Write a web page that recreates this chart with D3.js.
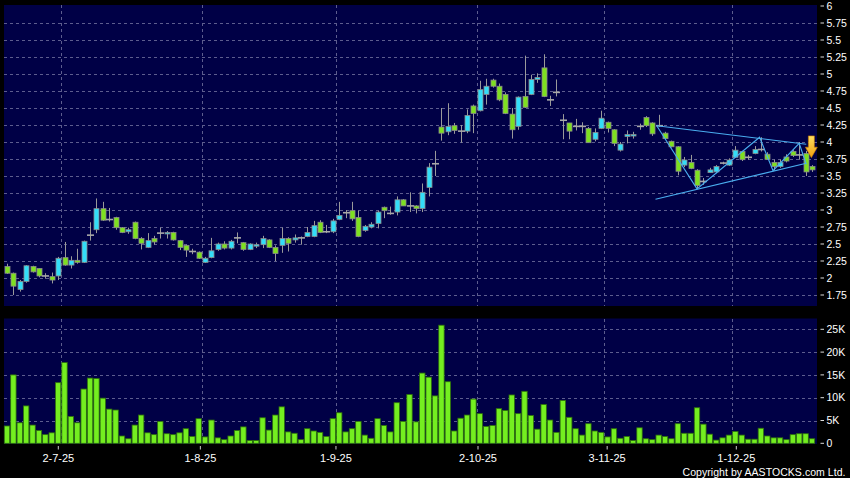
<!DOCTYPE html>
<html><head><meta charset="utf-8">
<script src="https://cdn.jsdelivr.net/npm/d3@7"></script>
<style>html,body{margin:0;padding:0;background:#000;} svg{display:block;}</style>
</head><body>
<svg id="chart" width="850" height="478"></svg>
<script>
// ---- DATA ----
const opens = [2.17,2.07,1.83,1.95,2.17,2.14,2.03,2.02,2.03,2.30,
2.19,2.26,2.23,2.63,2.71,3.02,2.86,2.89,2.74,2.68,
2.82,2.58,2.45,2.58,2.66,2.65,2.67,2.55,2.48,2.39,
2.38,2.23,2.30,2.42,2.50,2.44,2.59,2.52,2.42,2.48,
2.49,2.56,2.45,2.48,2.58,2.56,2.59,2.61,2.61,2.82,
2.68,2.68,2.86,2.96,2.99,2.89,2.70,2.75,2.80,3.04,
2.95,2.97,3.15,3.06,3.06,3.02,3.33,3.68,4.22,4.15,
4.24,4.16,4.16,4.53,4.46,4.70,4.91,4.82,4.70,4.41,
4.23,4.67,4.70,4.92,5.09,4.62,4.73,4.32,4.28,4.23,
4.23,4.20,4.04,4.20,4.29,4.18,3.88,4.08,4.09,4.23,
4.36,4.28,4.24,4.13,4.01,3.93,3.66,3.70,3.585,3.42,
3.55,3.56,3.69,3.66,3.775,3.86,3.775,3.83,3.89,3.82,
3.70,3.64,3.78,3.86,3.81,3.83,3.64];
const closes = [2.07,1.88,1.95,2.18,2.09,2.03,2.03,1.97,2.29,2.19,
2.26,2.23,2.54,2.63,3.02,2.85,2.86,2.74,2.67,2.71,
2.58,2.51,2.55,2.53,2.66,2.67,2.56,2.45,2.41,2.39,
2.29,2.29,2.40,2.50,2.44,2.54,2.59,2.42,2.50,2.49,
2.58,2.45,2.36,2.58,2.51,2.59,2.59,2.67,2.77,2.67,
2.68,2.84,2.92,2.96,2.87,2.61,2.76,2.79,2.97,2.99,
2.95,3.15,3.06,3.06,3.02,3.26,3.63,3.68,4.13,4.23,
4.17,4.16,4.39,4.42,4.77,4.82,4.82,4.62,4.42,4.18,
4.66,4.51,4.92,4.95,4.67,4.62,4.73,4.32,4.16,4.23,
4.23,3.99,4.14,4.35,4.20,3.98,3.97,4.11,4.11,4.23,
4.24,4.12,4.24,4.05,3.93,3.57,3.735,3.61,3.36,3.42,
3.59,3.64,3.69,3.735,3.88,3.74,3.775,3.89,3.89,3.745,
3.64,3.70,3.72,3.80,3.81,3.56,3.59];
const highs = [2.21,2.08,1.97,2.19,2.18,2.14,2.07,2.08,2.31,2.53,
2.32,2.43,2.55,2.82,3.17,3.12,3.03,2.90,2.75,2.74,
2.83,2.60,2.66,2.62,2.74,2.69,2.68,2.56,2.49,2.43,
2.39,2.31,2.59,2.52,2.54,2.56,2.67,2.53,2.51,2.52,
2.62,2.57,2.48,2.74,2.60,2.64,2.61,2.75,2.84,2.85,
2.78,2.87,3.12,3.00,3.12,2.99,2.78,2.82,2.99,3.05,
3.05,3.20,3.16,3.26,3.07,3.39,3.69,3.87,4.50,4.57,
4.28,4.25,4.48,4.55,4.90,4.93,4.93,4.86,4.73,4.50,
4.67,5.27,4.99,5.01,5.29,4.68,4.92,4.41,4.28,4.34,
4.29,4.22,4.20,4.46,4.30,4.19,4.00,4.17,4.15,4.27,
4.38,4.29,4.40,4.15,4.02,3.94,3.78,3.81,3.60,3.47,
3.62,3.66,3.71,3.76,3.94,3.87,3.81,3.94,4.07,3.85,
3.74,3.74,3.82,3.88,4.00,3.87,3.66];
const lows = [2.06,1.75,1.80,1.93,2.08,2.01,1.99,1.92,1.97,2.18,
2.14,2.21,2.22,2.55,2.66,2.84,2.83,2.71,2.66,2.65,
2.57,2.42,2.44,2.49,2.58,2.58,2.55,2.41,2.31,2.35,
2.28,2.22,2.29,2.40,2.42,2.42,2.51,2.40,2.41,2.44,
2.44,2.44,2.25,2.37,2.39,2.52,2.49,2.60,2.60,2.66,
2.66,2.66,2.85,2.88,2.84,2.60,2.68,2.73,2.73,2.88,
2.93,2.92,3.06,2.97,2.95,2.97,3.20,3.50,4.02,4.10,
4.12,3.99,4.13,4.13,4.45,4.55,4.80,4.60,4.41,4.05,
4.18,4.50,4.69,4.87,4.66,4.53,4.67,4.04,4.04,4.17,
4.13,3.99,4.01,4.19,4.14,3.94,3.86,3.98,4.05,4.18,
4.22,4.09,4.22,4.04,3.92,3.51,3.63,3.60,3.31,3.37,
3.55,3.54,3.67,3.65,3.77,3.72,3.74,3.82,3.86,3.74,
3.58,3.62,3.70,3.78,3.74,3.50,3.56];
const volumesK = [3.8,15.0,4.5,8.2,4.0,2.8,1.9,2.3,13.3,17.7,
5.9,4.5,11.9,14.3,14.2,9.9,7.5,7.3,1.6,1.0,
4.0,6.2,2.3,1.9,4.8,2.1,1.9,2.3,3.2,1.5,
5.4,1.4,5.1,1.2,0.8,1.6,2.8,3.6,0.6,0.6,
5.6,2.9,6.2,8.0,2.5,2.2,0.8,3.2,2.7,2.4,
1.5,5.4,6.7,2.5,3.2,4.8,1.8,1.1,5.4,3.9,
2.5,8.9,4.8,10.7,4.7,15.4,14.5,10.4,25.9,13.5,
2.7,5.5,6.2,9.7,6.5,3.7,3.9,7.6,7.2,10.6,
6.5,11.4,6.1,3.1,8.5,5.1,2.4,9.4,5.7,3.2,
1.8,4.3,2.7,2.4,1.4,3.2,1.1,1.5,0.6,3.4,
1.0,0.8,1.8,1.5,1.0,4.3,2.2,2.2,7.8,4.2,
2.0,0.7,1.2,1.8,2.6,1.8,0.9,0.9,3.3,1.6,
1.2,1.2,0.8,1.9,2.1,2.1,1.0];
const dateTickIndex = [9, 31, 52, 74, 94, 114];
const dateTickLabels = ["2-7-25","1-8-25","1-9-25","2-10-25","3-11-25","1-12-25"];
const priceTicks = [1.75,2,2.25,2.5,2.75,3,3.25,3.5,3.75,4,4.25,4.5,4.75,5,5.25,5.5,5.75,6];
const priceTickLabels = ["1.75","2","2.25","2.5","2.75","3","3.25","3.5","3.75","4","4.25","4.5","4.75","5","5.25","5.5","5.75","6"];
const volTicks = [0,5,10,15,20,25];
const volTickLabels = ["0","5K","10K","15K","20K","25K"];
// pattern drawing: [bar index, price]
const zigzag = [[101.7,4.24],[108.0,3.31],[117.8,4.07],[119.9,3.578],[124.0,3.98],[125.1,3.67]];
const upperTrend = [[101.7,4.24],[125.1,3.966]];
const lowerTrend = [[101.5,3.157],[125.1,3.687]];
const signalArrow = {index: 125.9, top: 4.09, tip: 3.77};

// ---- LAYOUT ----
const N = closes.length;
const svg = d3.select("#chart");
const P = {left: 4, right: 817, top: 5, bottom: 306};
const V = {top: 318.5, bottom: 444};
const x = d3.scaleLinear().domain([0, N - 1]).range([7, 812]);
const xLab = d3.scaleLinear().domain([8.5, 113.5]).range([58.3, 736.3]);
const yP = d3.scaleLinear().domain([1.75, 6]).range([295, 6]);
const yV = d3.scaleLinear().domain([0, 25]).range([443.3, 329.3]);
const FONT = "'Liberation Sans', Arial, Helvetica, sans-serif";
const gridColor = "#5d5d8e";

svg.append("rect").attr("width", 850).attr("height", 478).attr("fill", "#000");
svg.append("rect").attr("x", P.left).attr("y", P.top).attr("width", P.right - P.left).attr("height", P.bottom - P.top).attr("fill", "#000046");
svg.append("rect").attr("x", P.left).attr("y", V.top).attr("width", P.right - P.left).attr("height", V.bottom - V.top).attr("fill", "#000046");

// grids
const grid = svg.append("g").attr("stroke", gridColor).attr("stroke-width", 1).attr("stroke-dasharray", "3,3").attr("shape-rendering", "crispEdges");
grid.selectAll(".hp").data(priceTicks.filter(t => t < 6)).join("line")
  .attr("x1", P.left).attr("x2", P.right).attr("y1", d => Math.round(yP(d)) + 0.5).attr("y2", d => Math.round(yP(d)) + 0.5);
grid.selectAll(".hv").data(volTicks.filter(t => t > 0)).join("line")
  .attr("x1", P.left).attr("x2", P.right).attr("y1", d => Math.round(yV(d)) + 0.5).attr("y2", d => Math.round(yV(d)) + 0.5);
dateTickIndex.forEach(i => {
  const gx = Math.round(x(i - 0.5)) + 0.5;
  grid.append("line").attr("x1", gx).attr("x2", gx).attr("y1", P.top).attr("y2", P.bottom);
  grid.append("line").attr("x1", gx).attr("x2", gx).attr("y1", V.top).attr("y2", V.bottom);
});

// candles
const cg = svg.append("g");
const idx = d3.range(N);
cg.selectAll(".wick").data(idx).join("line")
  .attr("x1", i => Math.round(x(i)) + 0.5).attr("x2", i => Math.round(x(i)) + 0.5)
  .attr("y1", i => yP(highs[i])).attr("y2", i => yP(lows[i]))
  .attr("stroke", "#9a9a9a").attr("stroke-width", 1);
cg.selectAll(".body").data(idx.filter(i => opens[i] !== closes[i])).join("rect")
  .attr("x", i => Math.round(x(i)) - 2)
  .attr("y", i => yP(Math.max(opens[i], closes[i])))
  .attr("width", 5)
  .attr("height", i => Math.max(1.5, Math.abs(yP(opens[i]) - yP(closes[i]))))
  .attr("fill", i => closes[i] > opens[i] ? "#33ddf8" : "#7ee020")
  .attr("stroke", "#8a8a8a").attr("stroke-width", 0.8);
cg.selectAll(".doji").data(idx.filter(i => opens[i] === closes[i])).join("line")
  .attr("x1", i => Math.round(x(i)) - 3).attr("x2", i => Math.round(x(i)) + 4)
  .attr("y1", i => yP(closes[i])).attr("y2", i => yP(closes[i]))
  .attr("stroke", "#a8a8a8").attr("stroke-width", 1.6);

// pattern lines
const line = d3.line().x(d => x(d[0])).y(d => yP(d[1]));
[zigzag, upperTrend, lowerTrend].forEach(pts => {
  svg.append("path").attr("d", line(pts)).attr("fill", "none").attr("stroke", "#4aaef0").attr("stroke-width", 1.1);
});

// signal arrow
const defs = svg.append("defs");
const grad = defs.append("linearGradient").attr("id", "ag").attr("x1", 0).attr("y1", 0).attr("x2", 0).attr("y2", 1);
grad.append("stop").attr("offset", "0%").attr("stop-color", "#ffe060");
grad.append("stop").attr("offset", "100%").attr("stop-color", "#f0a010");
const ax = x(signalArrow.index), aTop = yP(signalArrow.top), aTip = yP(signalArrow.tip);
const aMid = aTop + (aTip - aTop) * 0.52;
svg.append("path")
  .attr("d", `M${ax - 3},${aTop} L${ax + 3},${aTop} L${ax + 3},${aMid} L${ax + 6},${aMid} L${ax},${aTip} L${ax - 6},${aMid} L${ax - 3},${aMid} Z`)
  .attr("fill", "url(#ag)").attr("stroke", "#c87800").attr("stroke-width", 0.6);

// volume bars
svg.append("g").selectAll("rect").data(idx).join("rect")
  .attr("x", i => x(i) - 2.7).attr("width", 5.4)
  .attr("y", i => yV(volumesK[i])).attr("height", i => yV(0) - yV(volumesK[i]))
  .attr("fill", "#74ee20").attr("stroke", "#2e700c").attr("stroke-width", 0.8);

// right axes
const ax1 = svg.append("g").attr("fill", "#fff").attr("font-family", FONT).attr("font-size", "10.5px");
priceTicks.forEach((t, k) => {
  ax1.append("line").attr("x1", 820.5).attr("x2", 824).attr("y1", yP(t)).attr("y2", yP(t)).attr("stroke", "#ddd");
  ax1.append("text").attr("x", 826.5).attr("y", yP(t)).attr("dy", "0.36em").text(priceTickLabels[k]);
});
volTicks.forEach((t, k) => {
  ax1.append("line").attr("x1", 820.5).attr("x2", 824).attr("y1", yV(t)).attr("y2", yV(t)).attr("stroke", "#ddd");
  ax1.append("text").attr("x", 826.5).attr("y", yV(t)).attr("dy", "0.36em").text(volTickLabels[k]);
});

// date axis
const ax2 = svg.append("g").attr("fill", "#fff").attr("font-family", FONT).attr("font-size", "11px");
dateTickIndex.forEach((i, k) => {
  const tx = xLab(i - 0.5);
  ax2.append("line").attr("x1", tx).attr("x2", tx).attr("y1", 446).attr("y2", 449.5).attr("stroke", "#ccc");
  ax2.append("text").attr("x", tx).attr("y", 461.5).attr("text-anchor", "middle").text(dateTickLabels[k]);
});
ax2.append("text").attr("x", 845.5).attr("y", 475.5).attr("text-anchor", "end")
  .attr("font-size", "10.5px").attr("textLength", 163).attr("lengthAdjust", "spacing")
  .text("Copyright by AASTOCKS.com Ltd.");
</script>
</body></html>
